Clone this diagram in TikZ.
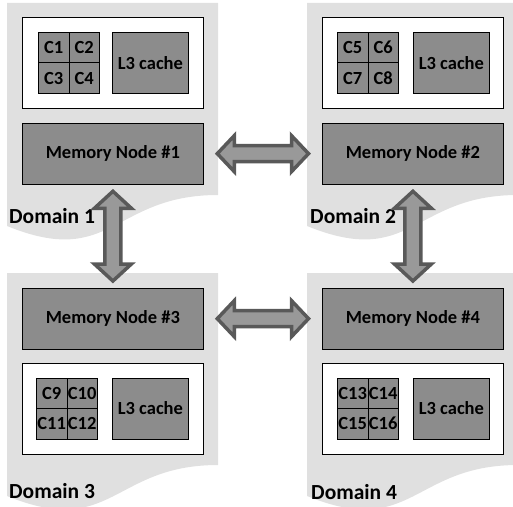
\documentclass[tikz,border=0pt]{standalone}
\usepackage{fontspec}
\setmainfont{Carlito}[BoldFont={Carlito Bold}]
\usetikzlibrary{calc}
\definecolor{domfill}{HTML}{E0E0E0}
\definecolor{boxfill}{HTML}{8C8C8C}
\definecolor{arrfill}{HTML}{999999}
\definecolor{arrline}{HTML}{595959}

% light grey "document" shaped background of one domain, origin = top left corner
\newcommand\domainshape[2]{%
  \fill[domfill] (#1,#2) -- ({#1+211},#2) -- ({#1+211},{#2+192})
    .. controls +(-105.5,0) and +(105.5,43) .. (#1,{#2+223}) -- cycle;}

\begin{document}
\begin{tikzpicture}[x=1bp,y=-1bp,
  chipbox/.style={draw=black, fill=white, line width=1bp, anchor=north west,
    inner sep=0, minimum width=181bp, minimum height=91bp},
  unitbox/.style={draw=black, fill=boxfill, line width=0.8bp, anchor=north west,
    inner sep=0, font=\fontsize{18.5bp}{20bp}\selectfont\bfseries},
  corebox/.style={unitbox, minimum width=30.5bp, minimum height=30.5bp},
  cachebox/.style={unitbox, minimum width=76bp, minimum height=61bp},
  membox/.style={unitbox, minimum width=181bp, minimum height=60.5bp},
  domlabel/.style={anchor=base west, inner sep=0,
    font=\fontsize{21.5bp}{23bp}\selectfont\bfseries},
  fat/.style={fill=arrfill, draw=arrline, line width=3.5bp, line join=miter}]

\useasboundingbox (0,0) rectangle (513,507);
\clip (0,0) rectangle (513,507);

% domain backgrounds
\domainshape{7}{3}
\domainshape{307}{3}
\domainshape{7}{273}
\domainshape{307}{273}

% ---- Domain 1 ----
\node[chipbox] (chip1) at (22,17) {};
\node[corebox] (c1) at (38,32) {C1};
\node[corebox] (c2) at (68.5,32) {C2};
\node[corebox] (c3) at (38,62.5) {C3};
\node[corebox] (c4) at (68.5,62.5) {C4};
\node[cachebox] (l3a) at (112,32) {L3 cache};
\node[membox] (mem1) at (22,123) {Memory Node \#1};
\node[domlabel] (lab1) at (9,223) {Domain 1};

% ---- Domain 2 ----
\node[chipbox] (chip2) at (322,17) {};
\node[corebox] (c5) at (337,32) {C5};
\node[corebox] (c6) at (367.5,32) {C6};
\node[corebox] (c7) at (337,62.5) {C7};
\node[corebox] (c8) at (367.5,62.5) {C8};
\node[cachebox] (l3b) at (413,32) {L3 cache};
\node[membox] (mem2) at (322,123) {Memory Node \#2};
\node[domlabel] (lab2) at (310,223) {Domain 2};

% ---- Domain 3 ----
\node[membox] (mem3) at (22,288) {Memory Node \#3};
\node[chipbox] (chip3) at (22,362.5) {};
\node[corebox] (c9) at (36,377.5) {C9};
\node[corebox] (c10) at (66.5,377.5) {C10};
\node[corebox] (c11) at (36,408) {C11};
\node[corebox] (c12) at (66.5,408) {C12};
\node[cachebox] (l3c) at (112,377.5) {L3 cache};
\node[domlabel] (lab3) at (9,498) {Domain 3};

% ---- Domain 4 ----
\node[membox] (mem4) at (322,288) {Memory Node \#4};
\node[chipbox] (chip4) at (322,362.5) {};
\node[corebox] (c13) at (337,377.5) {C13};
\node[corebox] (c14) at (367.5,377.5) {C14};
\node[corebox] (c15) at (337,408) {C15};
\node[corebox] (c16) at (367.5,408) {C16};
\node[cachebox] (l3d) at (413,377.5) {L3 cache};
\node[domlabel] (lab4) at (311,499) {Domain 4};

% ---- block arrows between memory nodes ----
% horizontal: gap 13.5, head length 17, head half 18, shaft half 8
\draw[fat] let \p1=(mem1.east), \p2=(mem2.west) in
  (\x1+13.5bp,\y1) -- (\x1+30.5bp,\y1+18bp) -- (\x1+30.5bp,\y1+8bp)
  -- (\x2-30.5bp,\y1+8bp) -- (\x2-30.5bp,\y1+18bp) -- (\x2-13.5bp,\y1)
  -- (\x2-30.5bp,\y1-18bp) -- (\x2-30.5bp,\y1-8bp) -- (\x1+30.5bp,\y1-8bp)
  -- (\x1+30.5bp,\y1-18bp) -- cycle;
\draw[fat] let \p1=(mem3.east), \p2=(mem4.west) in
  (\x1+13.5bp,\y1) -- (\x1+30.5bp,\y1+18bp) -- (\x1+30.5bp,\y1+8bp)
  -- (\x2-30.5bp,\y1+8bp) -- (\x2-30.5bp,\y1+18bp) -- (\x2-13.5bp,\y1)
  -- (\x2-30.5bp,\y1-18bp) -- (\x2-30.5bp,\y1-8bp) -- (\x1+30.5bp,\y1-8bp)
  -- (\x1+30.5bp,\y1-18bp) -- cycle;
% vertical: gap 7, head length 17, head half 18.5, shaft half 8
\draw[fat] let \p1=(mem1.south), \p2=(mem3.north) in
  (\x1,\y1-7bp) -- (\x1+18.5bp,\y1-24bp) -- (\x1+8bp,\y1-24bp)
  -- (\x1+8bp,\y2+24bp) -- (\x1+18.5bp,\y2+24bp) -- (\x1,\y2+7bp)
  -- (\x1-18.5bp,\y2+24bp) -- (\x1-8bp,\y2+24bp) -- (\x1-8bp,\y1-24bp)
  -- (\x1-18.5bp,\y1-24bp) -- cycle;
\draw[fat] let \p1=(mem2.south), \p2=(mem4.north) in
  (\x1,\y1-7bp) -- (\x1+18.5bp,\y1-24bp) -- (\x1+8bp,\y1-24bp)
  -- (\x1+8bp,\y2+24bp) -- (\x1+18.5bp,\y2+24bp) -- (\x1,\y2+7bp)
  -- (\x1-18.5bp,\y2+24bp) -- (\x1-8bp,\y2+24bp) -- (\x1-8bp,\y1-24bp)
  -- (\x1-18.5bp,\y1-24bp) -- cycle;
\end{tikzpicture}
\end{document}
